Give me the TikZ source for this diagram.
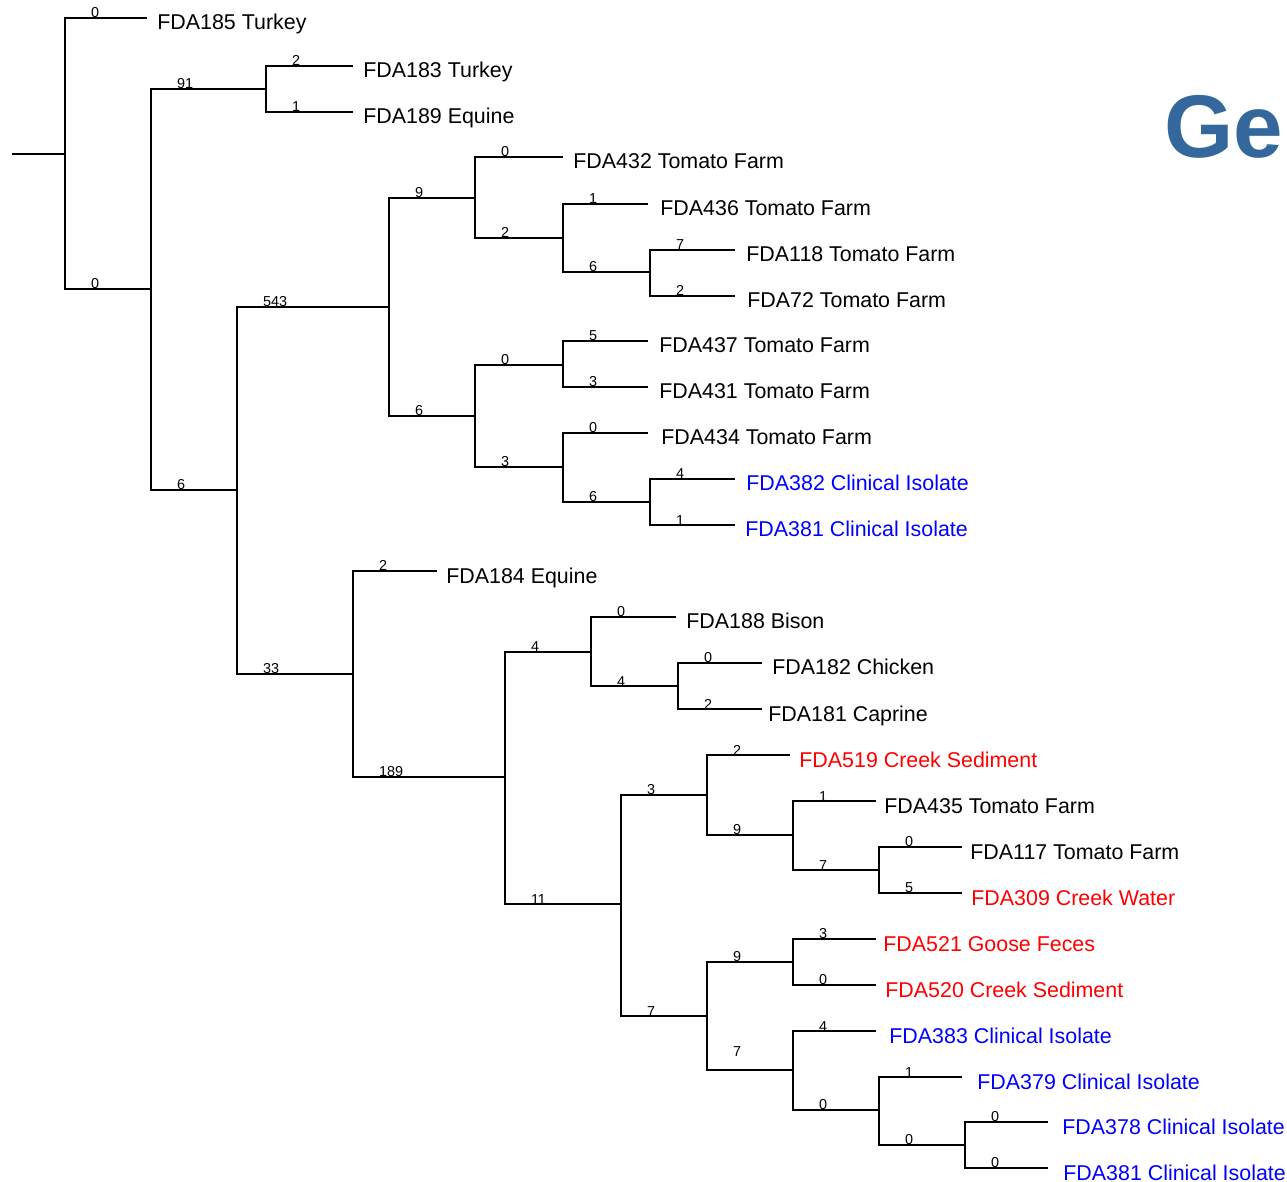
\documentclass[tikz,border=0pt]{standalone}
\usepackage{fontspec}
\setmainfont{Liberation Sans}
\definecolor{titleblue}{RGB}{52,104,156}
\tikzset{
  branch/.style={line width=1pt},
  blab/.style={anchor=south west, inner sep=0pt, xshift=12.5pt, yshift=-0.5pt, font=\fontsize{7.2}{8}\selectfont},
  leaf/.style={anchor=base west, inner sep=0pt, xshift=1pt, yshift=-6pt, font=\fontsize{10.7}{12}\selectfont},
  title/.style={anchor=base west, inner sep=0pt, text=titleblue, font=\fontsize{44.5}{48}\selectfont\bfseries}
}

\begin{document}
\begin{tikzpicture}[x=0.5pt,y=-0.5pt]
\useasboundingbox (0,0) rectangle (1287,1182);

% Internal nodes (vertical bars)
\foreach \id/\x/\y in {n0/65/154, n1/151/289, n2/266/89, n3/237/490, n4/389/307,
    n5/475/198, n6/563/238, n7/650/272, n8/475/416, n9/563/365, n10/563/467,
    n11/650/502, n12/353/674, n13/505/777, n14/591/652, n15/678/686, n16/621/904,
    n17/707/795, n18/793/835, n19/879/870, n20/707/1016, n21/793/962,
    n22/793/1070, n23/879/1110, n24/965/1145}
    \coordinate (\id) at (\x,\y);

% Root stub
\coordinate (stub) at (12,154);
\draw[branch] (stub) -- (n0);

% Internal branches
\foreach \p/\q/\bl in {n0/n1/0, n1/n2/91, n1/n3/6, n3/n4/543, n3/n12/33, n4/n5/9,
    n4/n8/6, n5/n6/2, n6/n7/6, n8/n9/0, n8/n10/3, n10/n11/6, n12/n13/189,
    n13/n14/4, n13/n16/11, n14/n15/4, n16/n17/3, n16/n20/7, n17/n18/9,
    n18/n19/7, n20/n21/9, n22/n23/0, n23/n24/0}
    \draw[branch] (\p) |- (\q) node[pos=0.5,blab] {\bl};
\draw[branch] (n20) |- (n22) node[pos=0.5,blab,yshift=7pt] {7};

% Leaves
\foreach \p/\tx/\ty/\id/\bl/\lx/\col/\txt in {
    n0/147/18/185/0/155/black/FDA185 Turkey,
    n2/353/66/183/2/361/black/FDA183 Turkey,
    n2/353/112/189/1/361/black/FDA189 Equine,
    n5/563/157/432/0/571/black/FDA432 Tomato Farm,
    n6/648/204/436/1/658/black/FDA436 Tomato Farm,
    n7/735/250/118/7/744/black/FDA118 Tomato Farm,
    n7/735/296/72/2/745/black/FDA72 Tomato Farm,
    n9/648/341/437/5/657/black/FDA437 Tomato Farm,
    n9/648/387/431/3/657/black/FDA431 Tomato Farm,
    n10/648/433/434/0/659/black/FDA434 Tomato Farm,
    n11/735/479/382/4/744/blue/FDA382 Clinical Isolate,
    n11/735/525/381/1/743/blue/FDA381 Clinical Isolate,
    n12/437/571/184/2/444/black/FDA184 Equine,
    n14/676/617/188/0/684/black/FDA188 Bison,
    n15/762/663/182/0/770/black/FDA182 Chicken,
    n15/762/709/181/2/766/black/FDA181 Caprine,
    n17/790/755/519/2/797/red/FDA519 Creek Sediment,
    n18/876/801/435/1/882/black/FDA435 Tomato Farm,
    n19/962/847/117/0/968/black/FDA117 Tomato Farm,
    n19/962/893/309/5/969/red/FDA309 Creek Water,
    n21/876/939/521/3/881/red/FDA521 Goose Feces,
    n21/876/985/520/0/883/red/FDA520 Creek Sediment,
    n22/876/1031/383/4/887/blue/FDA383 Clinical Isolate,
    n23/962/1077/379/1/975/blue/FDA379 Clinical Isolate,
    n24/1048/1122/378/0/1060/blue/FDA378 Clinical Isolate,
    n24/1048/1168/381b/0/1061/blue/FDA381 Clinical Isolate} {
    \coordinate (t\id) at (\tx,\ty);
    \draw[branch] (\p) |- (t\id) node[pos=0.5,blab] {\bl};
    \node[leaf,text=\col] (l\id) at (\lx,\ty) {\txt};
}

% Title (cut at the right edge)
\node[title] (ttl) at (1164,158) {Ge};
\end{tikzpicture}
\end{document}
